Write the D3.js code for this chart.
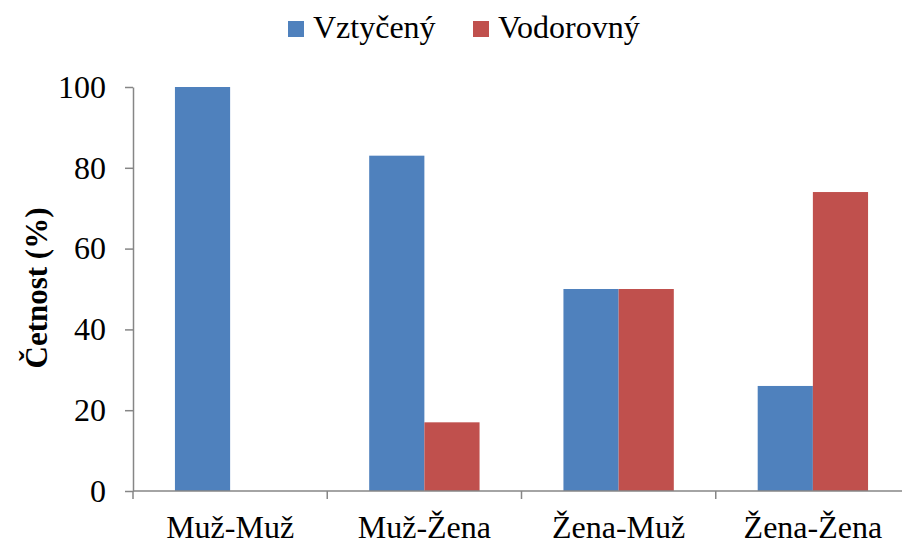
<!DOCTYPE html>
<html><head><meta charset="utf-8">
<script src="https://cdn.jsdelivr.net/npm/d3@7"></script>
<style>body{margin:0;background:#fff;}svg{display:block;} svg text{font-family:"Liberation Serif","Times New Roman","DejaVu Serif",serif;}</style>
</head><body><svg id="c" width="902" height="545"></svg>
<script>
const categories = ["Muž-Muž", "Muž-Žena", "Žena-Muž", "Žena-Žena"];
const seriesNames = ["Vztyčený", "Vodorovný"];
const vztyceny = [100, 83, 50, 26];
const vodorovny = [0, 17, 50, 74];
const yTicks = [0, 20, 40, 60, 80, 100];
const colors = ["#4F81BD", "#C0504D"];

const svg = d3.select("#c");
const font = '"Liberation Serif","Times New Roman","DejaVu Serif",serif';
const mLeft = 133, mRight = 910, mTop = 87, mBottom = 491;

const x = d3.scaleBand().domain(categories).range([mLeft, mRight]).paddingInner(0).paddingOuter(0);
const y = d3.scaleLinear().domain([0, 100]).range([mBottom, mTop]);
const xs = d3.scaleBand().domain(seriesNames).range([0, x.bandwidth()]).paddingInner(0).paddingOuter(0.76);

const data = [vztyceny, vodorovny];
categories.forEach((c, i) => {
  seriesNames.forEach((s, j) => {
    const v = data[j][i];
    if (v > 0) {
      svg.append("rect")
        .attr("x", x(c) + xs(s))
        .attr("y", y(v))
        .attr("width", xs.bandwidth())
        .attr("height", y(0) - y(v))
        .attr("fill", colors[j]);
    }
  });
});

// y axis
const yAxis = d3.axisLeft(y).tickValues(yTicks).tickSize(8).tickPadding(19).tickSizeOuter(0);
const gy = svg.append("g").attr("transform", `translate(${mLeft},0)`).call(yAxis);
gy.attr("font-family", null).attr("font-size", null);
gy.select(".domain").attr("stroke", "#868686").attr("stroke-width", 1.5);
gy.selectAll(".tick line").attr("stroke", "#868686").attr("stroke-width", 1.5);
gy.selectAll(".tick text").style("font-family", font).style("font-size", "32px").attr("fill", "#000");

// x axis
const gx = svg.append("g").attr("transform", `translate(0,${mBottom})`);
gx.append("line").attr("x1", mLeft).attr("x2", mRight).attr("y1", 0).attr("y2", 0)
  .attr("stroke", "#868686").attr("stroke-width", 1.5);
const boundaries = categories.map(c => x(c)).concat([x(categories[categories.length - 1]) + x.bandwidth()]);
gx.selectAll(".bt").data(boundaries).enter().append("line")
  .attr("x1", d => d).attr("x2", d => d).attr("y1", 0).attr("y2", 8)
  .attr("stroke", "#868686").attr("stroke-width", 1.5);
gx.selectAll(".cl").data(categories).enter().append("text")
  .attr("x", d => x(d) + x.bandwidth() / 2).attr("y", 47)
  .attr("text-anchor", "middle").style("font-family", font).style("font-size", "32px")
  .text(d => d);

// y title
svg.append("text").attr("transform", `translate(47,288) rotate(-90)`)
  .attr("text-anchor", "middle").style("font-family", font).style("font-size", "31px")
  .attr("font-weight", "bold").text("Četnost (%)");

// legend
const legX = [288, 473];
seriesNames.forEach((s, j) => {
  svg.append("rect").attr("x", legX[j]).attr("y", 21).attr("width", 16).attr("height", 16).attr("fill", colors[j]);
  svg.append("text").attr("x", legX[j] + 25).attr("y", 38).style("font-family", font).style("font-size", "32px").text(s);
});
</script></body></html>
